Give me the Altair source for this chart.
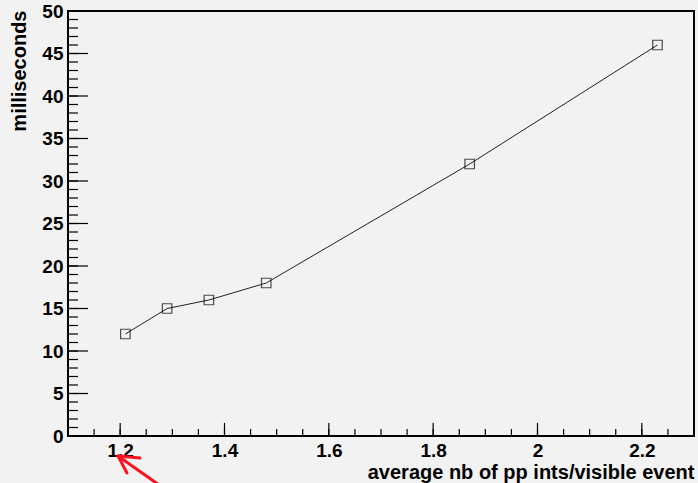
import altair as alt
import pandas as pd

# data
x_vals = [1.21, 1.29, 1.37, 1.48, 1.87, 2.23]
y_vals = [12, 15, 16, 18, 32, 46]

x_major = [1.2, 1.4, 1.6, 1.8, 2.0, 2.2]
x_minor = [round(1.15 + 0.05 * i, 2) for i in range(23)]
y_major = list(range(0, 51, 5))
y_minor = list(range(0, 51, 1))

W, H = 626, 425
FONT = "Liberation Sans"

df = pd.DataFrame({"x": x_vals, "y": y_vals})
xs = alt.Scale(domain=[1.1, 2.3], nice=False, zero=False)
ys = alt.Scale(domain=[0, 50], nice=False, zero=True)

base = alt.Chart(df)

line = base.mark_line(color="#222222", strokeWidth=1).encode(
    x=alt.X("x:Q", scale=xs,
            axis=alt.Axis(values=x_major, format="~g", tickSize=0, domain=False, grid=False,
                          labelFont=FONT, labelFontWeight="bold", labelFontSize=19,
                          labelColor="black", labelPadding=5,
                          title="average nb of pp ints/visible event",
                          titleFont=FONT, titleFontWeight="bold", titleFontSize=20,
                          titleColor="black", titleAlign="right", titleAnchor="end",
                          titleX=W, titleY=42, titleBaseline="alphabetic")),
    y=alt.Y("y:Q", scale=ys,
            axis=alt.Axis(values=y_major, format="d", tickSize=0, domain=False, grid=False,
                          labelFont=FONT, labelFontWeight="bold", labelFontSize=19,
                          labelColor="black", labelPadding=5,
                          title="milliseconds",
                          titleFont=FONT, titleFontWeight="bold", titleFontSize=20,
                          titleColor="black", titleAngle=-90, titleAlign="right",
                          titleX=-43, titleY=-1, titleBaseline="alphabetic")),
)

points = base.mark_point(shape="square", size=90, filled=False, color="black",
                         strokeWidth=1.2).encode(
    x=alt.X("x:Q", scale=xs), y=alt.Y("y:Q", scale=ys))

def yticks(vals, length):
    return alt.Chart(pd.DataFrame({"v": vals})).mark_rule(color="black", strokeWidth=1.2).encode(
        y=alt.Y("v:Q", scale=ys), x=alt.value(0), x2=alt.value(length))

def xticks(vals, length):
    return alt.Chart(pd.DataFrame({"v": vals})).mark_rule(color="black", strokeWidth=1.2).encode(
        x=alt.X("v:Q", scale=xs), y=alt.value(H), y2=alt.value(H - length))

one = alt.Data(values=[{"a": 1}])
def seg(x1, y1, x2, y2):
    return alt.Chart(one).mark_rule(color="#ff1020", strokeWidth=3, strokeCap="round").encode(
        x=alt.value(x1), y=alt.value(y1), x2=alt.value(x2), y2=alt.value(y2))

arrow = seg(50, 445, 94, 476) + seg(50, 445, 72, 447) + seg(50, 445, 59, 462)

chart = alt.layer(
    yticks(y_minor, 10), yticks(y_major, 20),
    xticks(x_minor, 7), xticks(x_major, 13),
    line, points, arrow,
).properties(
    width=W, height=H,
    autosize=alt.AutoSizeParams(type="none"),
    padding={"left": 68, "top": 11, "right": 4, "bottom": 47},
    background="#f2f2f2",
).configure_view(stroke="black", strokeWidth=2, fill="#f2f2f2")

chart.save("out.html", embed_options={"renderer": "svg", "actions": False})
